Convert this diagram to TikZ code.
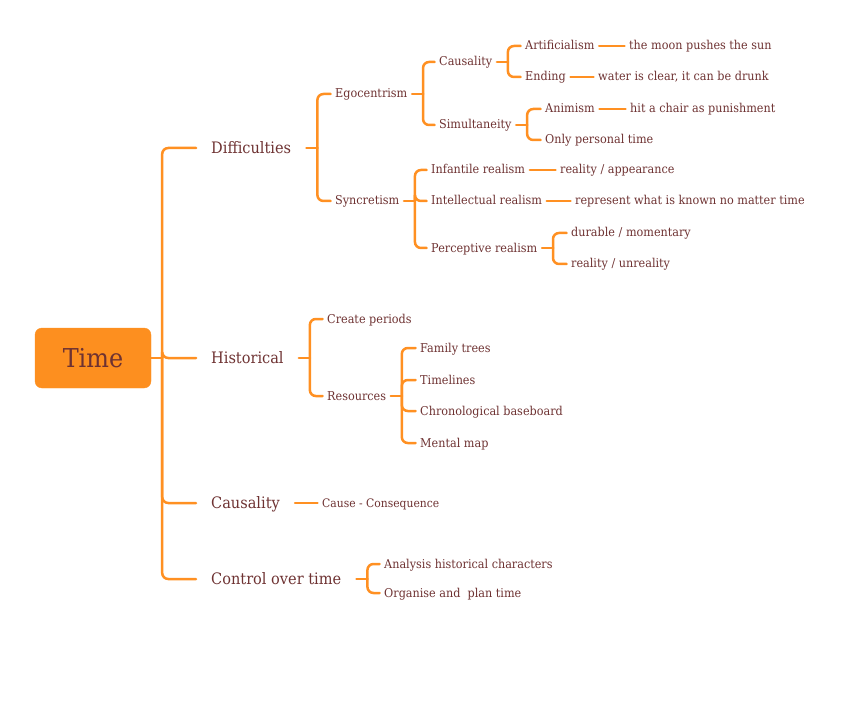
\documentclass[tikz,border=0pt]{standalone}
\usepackage{fontspec}
\setmainfont[FakeStretch=0.92]{DejaVu Serif}

\begin{document}
\begin{tikzpicture}
    [x=1pt,y=-1pt,line cap=round,
    % Styles
    branch/.style={draw=branchcolor, line width=2.5pt, rounded corners=6pt},
    root/.style={fill=rootcolor, draw=rootcolor, rounded corners=7pt,
        minimum width=116pt, minimum height=60pt, text=textcolor,
        font=\fontsize{26}{30}\selectfont},
    main topic/.style={anchor=west, text=textcolor, inner xsep=15pt, inner ysep=1pt,
        text height=13pt, text depth=2.5pt, font=\fontsize{15.8}{18}\selectfont},
    topic/.style={anchor=west, text=textcolor, inner xsep=4.5pt, inner ysep=1pt,
        text height=10pt, text depth=2pt, font=\fontsize{12.2}{14}\selectfont}]

    % Colors
    \definecolor{branchcolor}{HTML}{FF9022}
    \definecolor{rootcolor}{HTML}{FD8F1F}
    \definecolor{textcolor}{HTML}{6E3232}

    \useasboundingbox (0,0) rectangle (848,727);

    % Root and main topics
    \node[root] (time) at (93,358) {Time};
    \node[main topic] (diff) at (196,148) {Difficulties};
    \node[main topic] (hist) at (196,358) {Historical};
    \node[main topic] (caus) at (196,503) {Causality};
    \node[main topic] (ctrl) at (196,579) {Control over time};

    % Difficulties
    \node[topic] (ego) at (330.5,94) {Egocentrism};
    \node[topic] (sync) at (330.5,201) {Syncretism};
    \node[topic] (egocaus) at (434.5,62) {Causality};
    \node[topic] (simul) at (434.5,125) {Simultaneity};
    \node[topic] (artif) at (520.5,46) {Artificialism};
    \node[topic] (ending) at (520.5,77) {Ending};
    \node[topic] (moon) at (624.5,46) {the moon pushes the sun};
    \node[topic] (water) at (593.5,77) {water is clear, it can be drunk};
    \node[topic] (anim) at (540.5,109) {Animism};
    \node[topic] (onlyp) at (540.5,140) {Only personal time};
    \node[topic] (chair) at (625.5,109) {hit a chair as punishment};
    \node[topic] (infr) at (426.5,170) {Infantile realism};
    \node[topic] (intr) at (426.5,201) {Intellectual realism};
    \node[topic] (perr) at (426.5,248) {Perceptive realism};
    \node[topic] (appear) at (555.5,170) {reality / appearance};
    \node[topic] (known) at (570.5,201) {represent what is known no matter time};
    \node[topic] (durable) at (566.5,233) {durable / momentary};
    \node[topic] (unreal) at (566.5,264) {reality / unreality};

    % Historical
    \node[topic] (periods) at (322.5,319) {Create periods};
    \node[topic] (res) at (322.5,396) {Resources};
    \node[topic] (family) at (415.5,348) {Family trees};
    \node[topic] (timel) at (415.5,380) {Timelines};
    \node[topic] (chrono) at (415.5,411) {Chronological baseboard};
    \node[topic] (mental) at (415.5,443) {Mental map};

    % Causality and control over time
    \node[topic, font=\fontsize{11.7}{14}\selectfont] (cons) at (317.5,503) {Cause - Consequence};
    \node[topic] (analysis) at (379.5,564) {Analysis historical characters};
    \node[topic] (organise) at (379.5,593) {Organise and \ plan time};

    % Forks
    \foreach \parent/\children in {time/{diff,hist,caus,ctrl},
            diff/{ego,sync}, ego/{egocaus,simul}, egocaus/{artif,ending},
            simul/{anim,onlyp}, sync/{infr,intr,perr}, perr/{durable,unreal},
            hist/{periods,res}, res/{family,timel,chrono,mental},
            ctrl/{analysis,organise}}
    {
        \draw[branch] (\parent.east) -- ++(11,0) coordinate (\parent fork);
        \foreach \child in \children
            \draw[branch] (\parent fork) |- (\child.west);
    }

    % Single links
    \foreach \parent/\child in {artif/moon, ending/water, anim/chair,
            infr/appear, intr/known, caus/cons}
        \draw[branch] (\parent.east) -- (\child.west);

\end{tikzpicture}
\end{document}
